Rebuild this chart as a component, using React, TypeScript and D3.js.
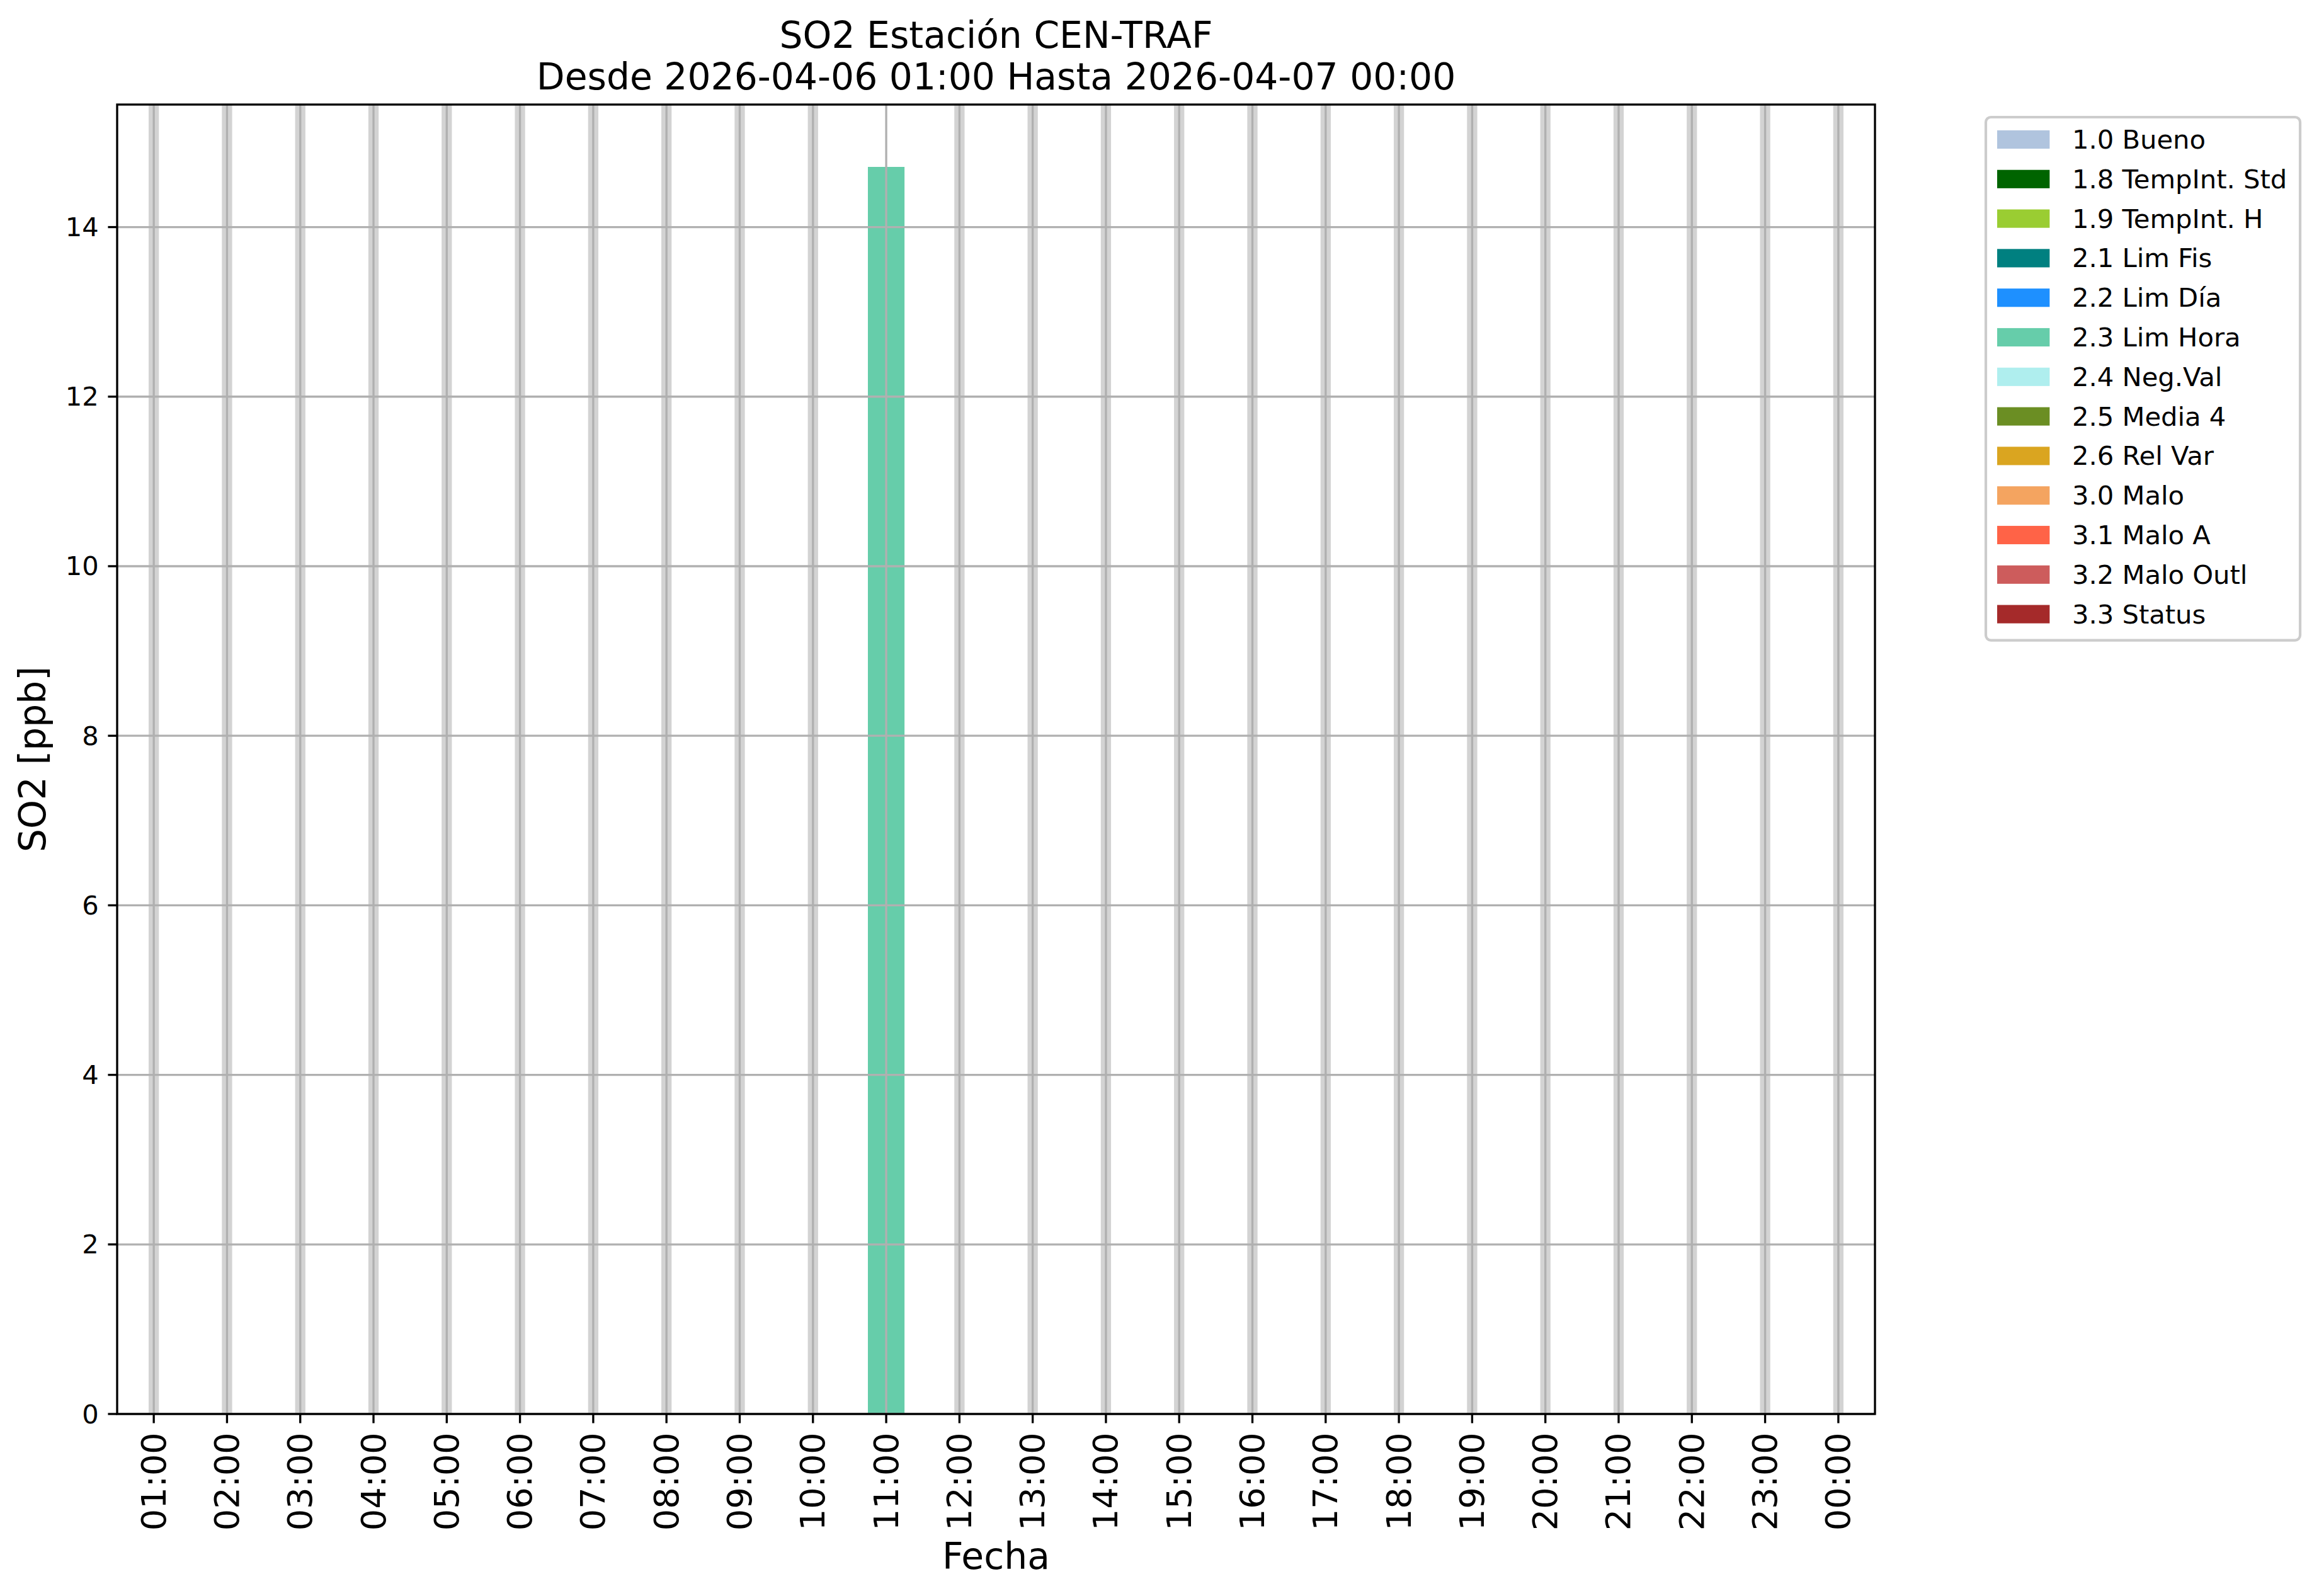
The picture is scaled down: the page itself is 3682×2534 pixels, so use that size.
import React from "react";
import * as d3 from "d3";

// ---------- data ----------
const hourLabels = [
  "01:00", "02:00", "03:00", "04:00", "05:00", "06:00", "07:00", "08:00",
  "09:00", "10:00", "11:00", "12:00", "13:00", "14:00", "15:00", "16:00",
  "17:00", "18:00", "19:00", "20:00", "21:00", "22:00", "23:00", "00:00",
];
// SO2 hourly values (ppb); null = missing data
const so2Values: (number | null)[] = [
  null, null, null, null, null, null, null, null, null, null,
  14.71,
  null, null, null, null, null, null, null, null, null, null, null, null, null,
];
// validation flag of each hour (index into legend)
const so2Flags: (string | null)[] = [
  null, null, null, null, null, null, null, null, null, null,
  "2.3 Lim Hora",
  null, null, null, null, null, null, null, null, null, null, null, null, null,
];
const legendLabels = [
  "1.0 Bueno", "1.8 TempInt. Std", "1.9 TempInt. H", "2.1 Lim Fis", "2.2 Lim Día",
  "2.3 Lim Hora", "2.4 Neg.Val", "2.5 Media 4", "2.6 Rel Var", "3.0 Malo",
  "3.1 Malo A", "3.2 Malo Outl", "3.3 Status",
];
const legendColors = [
  "#b0c4de", "#006400", "#9acd32", "#008080", "#1e90ff",
  "#66cdaa", "#afeeee", "#6b8e23", "#daa520", "#f4a460",
  "#ff6347", "#cd5c5c", "#a52a2a",
];
const yTicks = [0, 2, 4, 6, 8, 10, 12, 14];
const titleLines = ["SO2 Estación CEN-TRAF", "Desde 2026-04-06 01:00 Hasta 2026-04-07 00:00"];
const xLabel = "Fecha";
const yLabel = "SO2 [ppb]";

// ---------- layout ----------
const W = 3682;
const H = 2534;
const L = 186, R = 2977, T = 166, B = 2245;
const FONT = "DejaVu Sans, Verdana, sans-serif";
const pt = 300 / 72;

export default function App() {
  const hourIdx = hourLabels.map((_, i) => i + 1);
  const x = d3.scaleLinear().domain([0.5, 24.5]).range([L, R]);
  const maxV = d3.max(so2Values, (v) => (v == null ? 0 : v)) as number;
  const y = d3.scaleLinear().domain([0, maxV * 1.05]).range([B, T]);
  const barW = x(0.5) - x(0);
  const bandW = x(0.14) - x(0);
  const colorOf = (f: string | null) =>
    f == null ? "#cccccc" : legendColors[legendLabels.indexOf(f)];

  const gridColor = "#b0b0b0";
  const gridW = 0.8 * pt;
  const tickLen = 3.5 * pt;
  const tickPad = 3.5 * pt;

  // legend geometry
  const lgFont = 10 * pt;
  const lgX = 3153, lgY = 186;
  const lgW = 3652 - 3153;
  const rowH = 62.8;
  const patchX = 3171, patchW = 2 * lgFont, patchH = 0.7 * lgFont;
  const firstCenter = 221.5;
  const lgH = (firstCenter - lgY) * 2 + rowH * (legendLabels.length - 1) + 6;

  return (
    <svg
      width={W}
      height={H}
      style={{ position: "absolute", left: 0, top: 0, background: "#fff" }}
      fontFamily={FONT}
    >
      <rect x={0} y={0} width={W} height={H} fill="#fff" />
      {/* missing-data bands */}
      {hourIdx.map((h, i) =>
        so2Values[i] == null ? (
          <rect key={"band" + i} x={x(h) - bandW / 2} y={T} width={bandW} height={B - T} fill="#d3d3d3" />
        ) : null
      )}
      {/* bars */}
      {hourIdx.map((h, i) =>
        so2Values[i] != null ? (
          <rect
            key={"bar" + i}
            x={x(h) - barW / 2}
            y={y(so2Values[i] as number)}
            width={barW}
            height={y(0) - y(so2Values[i] as number)}
            fill={colorOf(so2Flags[i])}
          />
        ) : null
      )}
      {/* grid */}
      {hourIdx.map((h) => (
        <line key={"vg" + h} x1={x(h)} x2={x(h)} y1={T} y2={B} stroke={gridColor} strokeWidth={gridW} />
      ))}
      {yTicks.map((t) => (
        <line key={"hg" + t} x1={L} x2={R} y1={y(t)} y2={y(t)} stroke={gridColor} strokeWidth={gridW} />
      ))}
      {/* spines */}
      <rect x={L} y={T} width={R - L} height={B - T} fill="none" stroke="#000" strokeWidth={gridW} />
      {/* y ticks */}
      {yTicks.map((t) => (
        <g key={"yt" + t}>
          <line x1={L - tickLen} x2={L} y1={y(t)} y2={y(t)} stroke="#000" strokeWidth={gridW} />
          <text
            x={L - tickLen - tickPad}
            y={y(t)}
            fontSize={10 * pt}
            textAnchor="end"
            dominantBaseline="central"
          >
            {t}
          </text>
        </g>
      ))}
      {/* x ticks */}
      {hourIdx.map((h, i) => (
        <g key={"xt" + h}>
          <line x1={x(h)} x2={x(h)} y1={B} y2={B + tickLen} stroke="#000" strokeWidth={gridW} />
          <text
            transform={`translate(${x(h)},${B + tickLen + tickPad}) rotate(-90)`}
            fontSize={13 * pt}
            textAnchor="end"
            dominantBaseline="central"
          >
            {hourLabels[i]}
          </text>
        </g>
      ))}
      {/* axis labels */}
      <text x={(L + R) / 2} y={2491} fontSize={14 * pt} textAnchor="middle">
        {xLabel}
      </text>
      <text
        transform={`translate(72,${(T + B) / 2}) rotate(-90)`}
        fontSize={14 * pt}
        textAnchor="middle"
      >
        {yLabel}
      </text>
      {/* title */}
      {titleLines.map((s, i) => (
        <text key={"t" + i} x={(L + R) / 2} y={76 + i * 66} fontSize={14 * pt} textAnchor="middle">
          {s}
        </text>
      ))}
      {/* legend */}
      <rect
        x={lgX}
        y={lgY}
        width={lgW}
        height={lgH}
        rx={8}
        fill="#fff"
        fillOpacity={0.8}
        stroke="#cccccc"
        strokeWidth={pt}
      />
      {legendLabels.map((lab, i) => {
        const cy = firstCenter + i * rowH;
        return (
          <g key={"lg" + i}>
            <rect x={patchX} y={cy - patchH / 2} width={patchW} height={patchH} fill={legendColors[i]} />
            <text x={3290} y={cy + 0.35 * lgFont} fontSize={lgFont}>
              {lab}
            </text>
          </g>
        );
      })}
    </svg>
  );
}
